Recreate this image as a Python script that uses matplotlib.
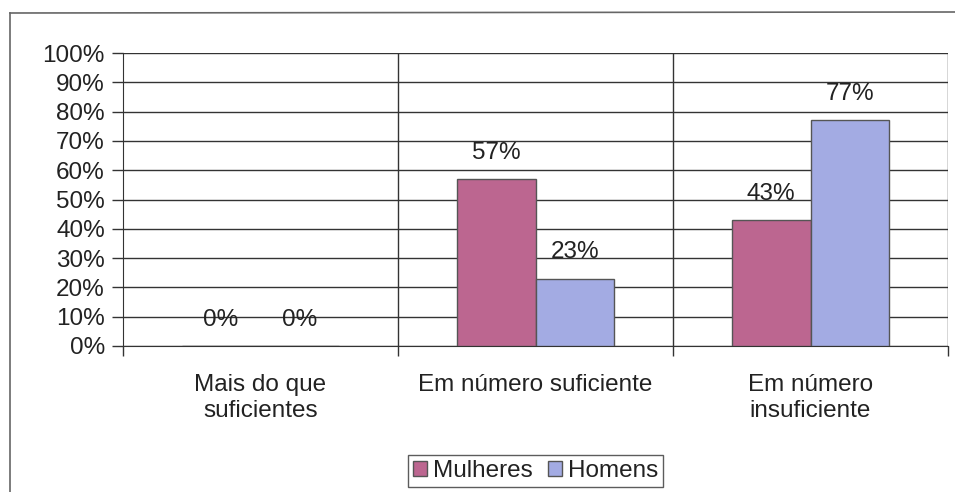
import matplotlib.pyplot as plt
import numpy as np
from matplotlib.ticker import MultipleLocator, FuncFormatter
from matplotlib.lines import Line2D

plt.rcParams['font.family'] = ['Liberation Sans', 'DejaVu Sans']

categorias = ['Mais do que\nsuficientes', 'Em número suficiente', 'Em número\ninsuficiente']
mulheres = [0, 57, 43]
homens = [0, 23, 77]
series = ['Mulheres', 'Homens']
cores = ['#BC6690', '#A3ABE3']

fig = plt.figure(figsize=(9.55, 4.92), dpi=100)
ax = fig.add_axes([123 / 955, 146 / 492, 825 / 955, 293 / 492])

x = np.arange(len(categorias))
w = 0.287
b1 = ax.bar(x - w / 2, mulheres, w, color=cores[0], edgecolor='#555555', linewidth=1, label=series[0], zorder=3)
b2 = ax.bar(x + w / 2, homens, w, color=cores[1], edgecolor='#555555', linewidth=1, label=series[1], zorder=3)

# rotulos dos valores
for barras in (b1, b2):
    for b in barras:
        ax.annotate('{:.0f}%'.format(b.get_height()),
                    (b.get_x() + b.get_width() / 2, b.get_height()),
                    xytext=(0, 19), textcoords='offset points',
                    ha='center', va='center', fontsize=17.5, color='#222222')

ax.set_xlim(-0.5, 2.5)
ax.set_ylim(0, 100)
ax.yaxis.set_major_locator(MultipleLocator(10))
ax.yaxis.set_major_formatter(FuncFormatter(lambda v, p: '{:.0f}%'.format(v)))
ax.grid(axis='y', color='#333333', linewidth=1, zorder=0)

# linhas entre categorias
for xv in [0.5, 1.5, 2.5]:
    ax.axvline(xv, color='#333333', linewidth=1, zorder=1)

ax.set_xticks([-0.5, 0.5, 1.5, 2.5])
ax.set_xticklabels([])
ax.set_xticks(x, minor=True)
ax.set_xticklabels(categorias, minor=True, fontsize=17.5, color='#222222', linespacing=1.25)
ax.tick_params(axis='x', which='minor', length=0, pad=20)
ax.tick_params(axis='x', which='major', length=7, width=1, color='#333333')
ax.tick_params(axis='y', length=8, width=1, color='#333333', labelsize=17.5, labelcolor='#222222', pad=5)

for s in ['top', 'right']:
    ax.spines[s].set_visible(False)
ax.spines['left'].set_color('#333333')
ax.spines['bottom'].set_color('#333333')

leg = fig.legend(handles=[b1, b2], labels=series, loc='center', bbox_to_anchor=(535.5 / 955, 1 - 471 / 492),
                 ncol=2, fontsize=17.5, frameon=True, fancybox=False, edgecolor='#333333',
                 handlelength=0.6, handleheight=0.6, handletextpad=0.25, columnspacing=0.6,
                 borderpad=0.2, borderaxespad=0)
leg.get_frame().set_linewidth(1)
for t in leg.get_texts():
    t.set_color('#222222')

# moldura externa
fig.add_artist(Line2D([10 / 955, 10 / 955], [1 - 13 / 492, 0], color='#666666', linewidth=1.2))
fig.add_artist(Line2D([10 / 955, 1], [1 - 13 / 492, 1 - 12 / 492], color='#666666', linewidth=1.2))

fig.savefig('out.png', dpi=100)
